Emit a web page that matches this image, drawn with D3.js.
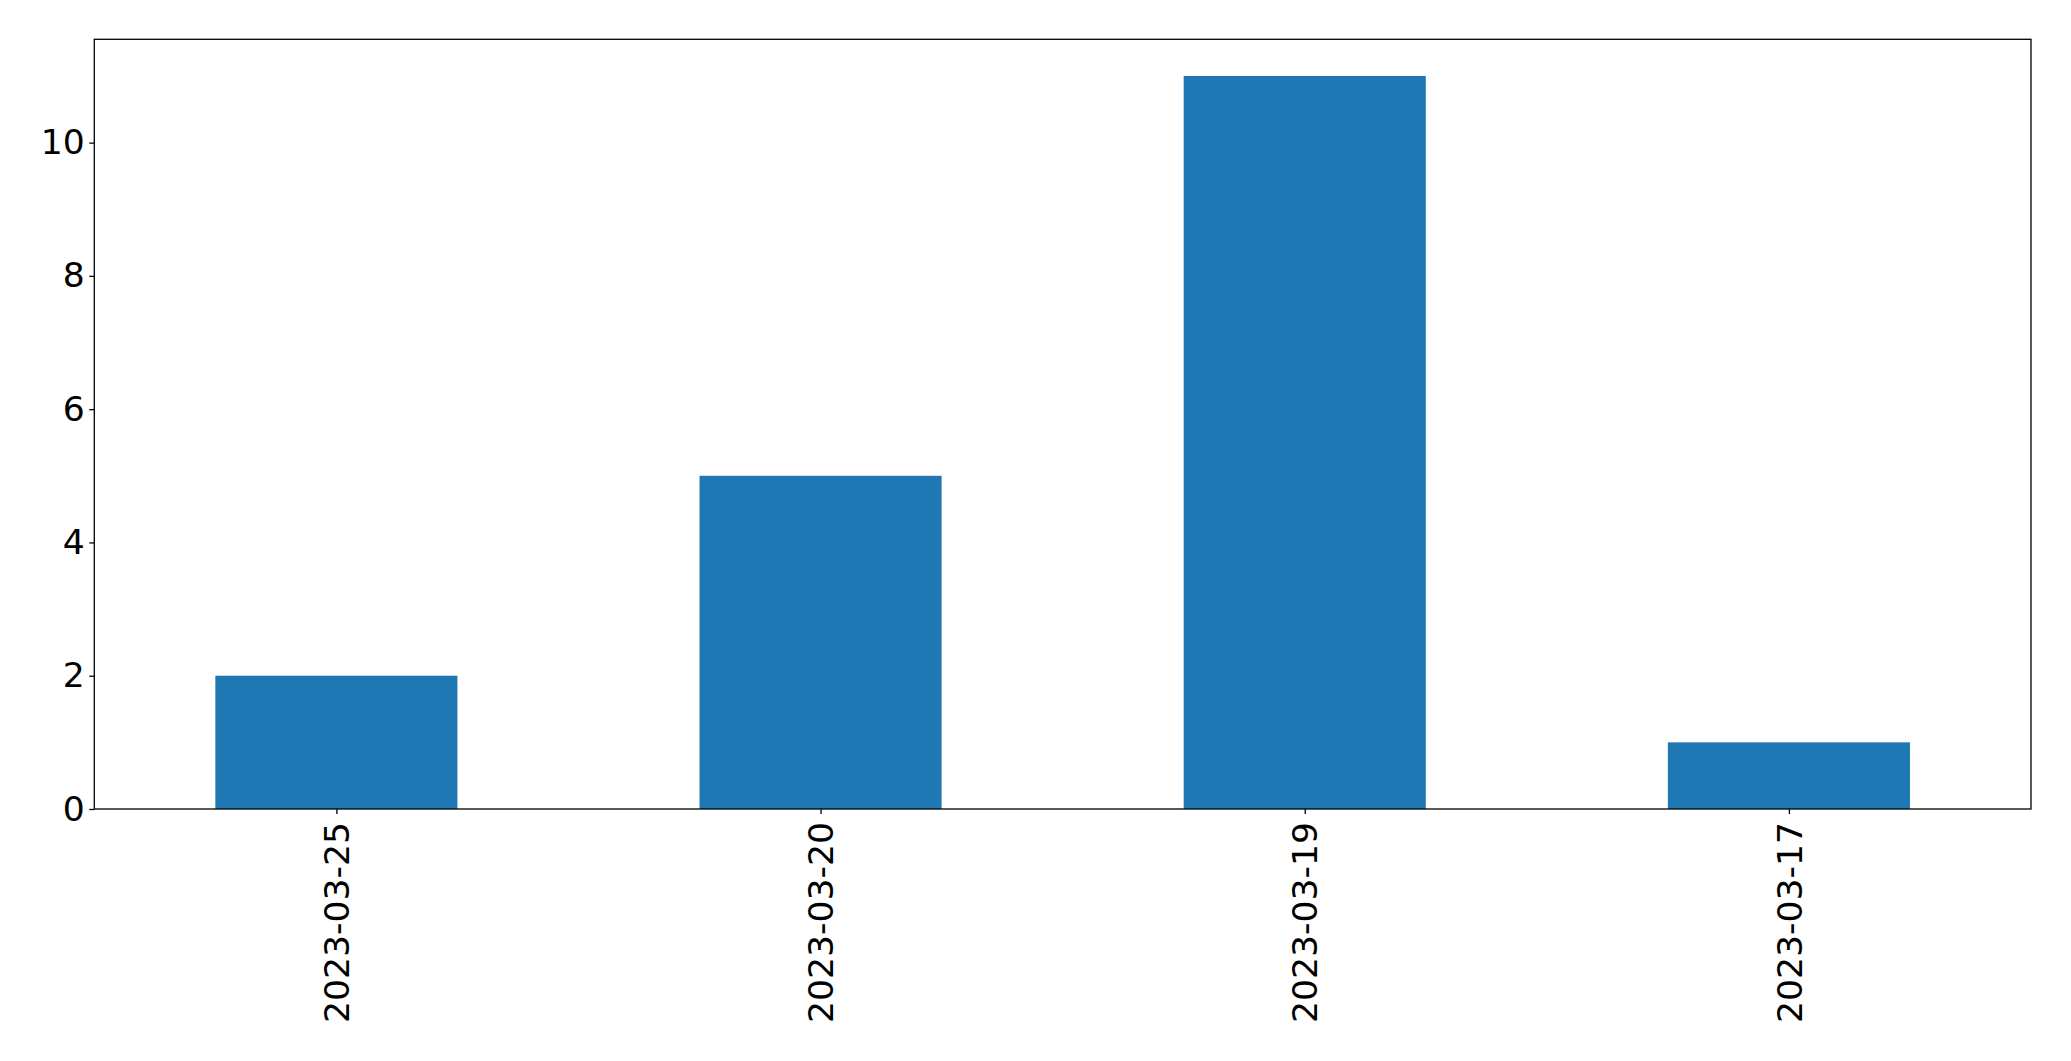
<!DOCTYPE html>
<html>
<head>
<meta charset="utf-8">
<script src="https://cdn.jsdelivr.net/npm/d3@7"></script>
<style>
  html, body { margin: 0; padding: 0; background: #fff; }
  svg { display: block; }
  text { font-family: "DejaVu Sans", sans-serif; fill: #000; }
</style>
</head>
<body>
<script>
const categories = ["2023-03-25", "2023-03-20", "2023-03-19", "2023-03-17"];
const values = [2, 5, 11, 1];
const yTicks = [0, 2, 4, 6, 8, 10];

const W = 2071, H = 1061;
const mLeft = 94.3, mRight = 2031, mTop = 39.3, mBottom = 809;
const fontSize = 34.6;

const svg = d3.select("body").append("svg").attr("width", W).attr("height", H);

const x = d3.scaleLinear().domain([-0.5, categories.length - 0.5]).range([mLeft, mRight]);
const y = d3.scaleLinear().domain([0, d3.max(values) * 1.05]).range([mBottom, mTop]);

// bars
svg.append("g").selectAll("rect").data(values).join("rect")
  .attr("x", (d, i) => x(i - 0.25))
  .attr("width", (d, i) => x(i + 0.25) - x(i - 0.25))
  .attr("y", d => y(d))
  .attr("height", d => y(0) - y(d))
  .attr("fill", "#1f77b4");

// y axis
const yAxis = d3.axisLeft(y).tickValues(yTicks).tickSize(5).tickPadding(4.5).tickFormat(d3.format("d"));
const gy = svg.append("g").attr("transform", `translate(${mLeft},0)`).call(yAxis);
gy.select(".domain").remove();
gy.selectAll(".tick line").attr("stroke", "#000").attr("stroke-width", 1.3);
gy.selectAll(".tick text").attr("font-size", fontSize).attr("font-family", "DejaVu Sans").attr("fill", "#000");

// x axis
const xAxis = d3.axisBottom(x).tickValues(d3.range(categories.length)).tickSize(5).tickFormat(i => categories[i]);
const gx = svg.append("g").attr("transform", `translate(0,${mBottom})`).call(xAxis);
gx.select(".domain").remove();
gx.selectAll(".tick line").attr("stroke", "#000").attr("stroke-width", 1.3);
gx.selectAll(".tick text")
  .attr("font-size", fontSize).attr("font-family", "DejaVu Sans").attr("fill", "#000")
  .attr("text-anchor", "end")
  .attr("x", 0).attr("y", 0).attr("dy", "0.35em")
  .attr("transform", "translate(0,13) rotate(-90)");

// frame
svg.append("rect")
  .attr("x", mLeft).attr("y", mTop)
  .attr("width", mRight - mLeft).attr("height", mBottom - mTop)
  .attr("fill", "none").attr("stroke", "#000").attr("stroke-width", 1.3);
</script>
</body>
</html>
